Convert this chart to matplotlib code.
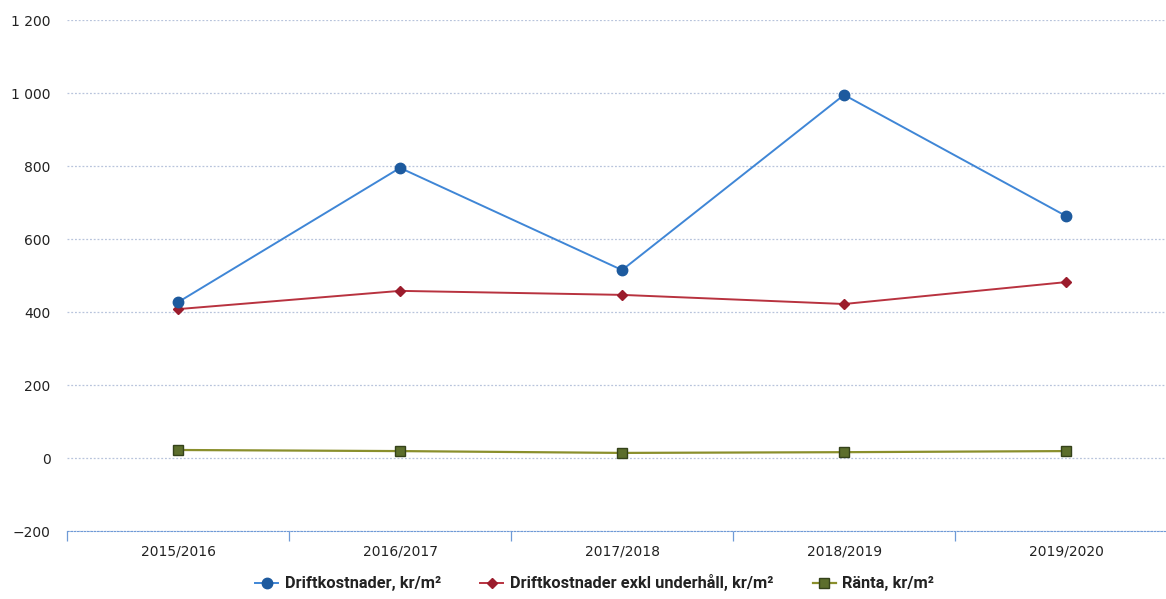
import matplotlib
matplotlib.use("Agg")
import matplotlib.pyplot as plt
from matplotlib.ticker import FuncFormatter

# === DATA ===
years = ["2015/2016", "2016/2017", "2017/2018", "2018/2019", "2019/2020"]
drift = [427, 795, 515, 995, 663]
drift_exkl = [408, 458, 447, 422, 482]
ranta = [22, 19, 14, 16, 19]
yticks = [-200, 0, 200, 400, 600, 800, 1000, 1200]

plt.rcParams['font.family'] = ['DejaVu Sans']

fig = plt.figure(figsize=(11.66, 5.99), dpi=100, facecolor='white')
# plot area runs a bit past the right edge, like the scanned original
ax = fig.add_axes([0.0575, 0.1135, 0.952, 0.853])
x = list(range(len(years)))

ax.plot(x, drift, color='#3f86d6', lw=1.4, marker='o', ms=7.5,
        mfc='#1d5a9e', mec='#1d5a9e', label='Driftkostnader, kr/m²', zorder=4)
ax.plot(x, drift_exkl, color='#b8323f', lw=1.4, marker='D', ms=5.5,
        mfc='#9b1c2c', mec='#9b1c2c', label='Driftkostnader exkl underhåll, kr/m²', zorder=3)
ax.plot(x, ranta, color='#8a8f2c', lw=1.6, marker='s', ms=7,
        mfc='#5c6e2c', mec='#34421a', label='Ränta, kr/m²', zorder=3)

ax.set_xlim(-0.5, 4.5)
ax.set_ylim(-200, 1200)
ax.set_yticks(yticks)
ax.yaxis.set_major_formatter(FuncFormatter(
    lambda v, p: f"{int(v):,}".replace(",", " ").replace("-", "\u2212")))
ax.set_xticks(x)
ax.set_xticklabels(years)
ax.set_xticks([-0.5, 0.5, 1.5, 2.5, 3.5], minor=True)

ax.grid(axis='y', color='#b8c4dc', lw=0.9, ls=(0, (1.5, 1.5)))
ax.set_axisbelow(True)
for s in ['top', 'right', 'left']:
    ax.spines[s].set_visible(False)
ax.spines['bottom'].set_color('#6f9ad6')
ax.spines['bottom'].set_linestyle((0, (1.5, 1.5)))
ax.tick_params(axis='y', length=0, labelsize=10, pad=12, colors='#222222')
ax.tick_params(axis='x', which='major', length=0, labelsize=10, pad=10, colors='#222222')
ax.tick_params(axis='x', which='minor', length=7, color='#6f9ad6', width=0.9)

leg = fig.legend(loc='lower center', bbox_to_anchor=(0.51, -0.012), ncol=3,
                 frameon=False, handlelength=1.4, columnspacing=2.4,
                 handletextpad=0.4, prop={'family': 'Roboto', 'weight': 'bold', 'size': 11.8})
for t in leg.get_texts():
    t.set_color('#222222')

fig.savefig('out.png', dpi=100, facecolor='white')
